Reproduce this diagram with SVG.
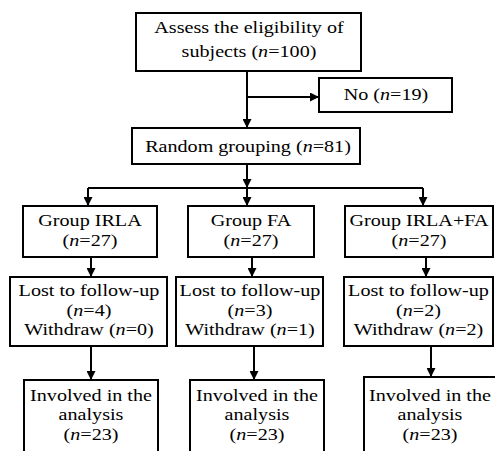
<svg xmlns="http://www.w3.org/2000/svg" width="495" height="451" viewBox="0 0 495 451">
<style>
rect{fill:#fff;stroke:#000;stroke-width:2}
text{font-family:'Liberation Serif','Times New Roman',serif;font-size:17.5px;fill:#000;text-anchor:middle}
.i{font-style:italic}
#connectors line{stroke:#000;stroke-width:2;fill:none}
</style>
<defs>
<marker id="ah" viewBox="0 0 10 10" refX="10" refY="5" markerWidth="9" markerHeight="9" markerUnits="userSpaceOnUse" orient="auto"><path d="M0,0L10,5L0,10Z" fill="#000"/></marker>
</defs>
<rect x="0" y="0" width="495" height="451" style="stroke:none"/>
<g id="connectors">
<line x1="247" y1="71" x2="247" y2="128" marker-end="url(#ah)"/>
<line x1="247" y1="97" x2="319" y2="97" marker-end="url(#ah)"/>
<line x1="247" y1="164" x2="247" y2="188" marker-end="url(#ah)"/>
<line x1="88" y1="188" x2="423" y2="188"/>
<line x1="88" y1="188" x2="88" y2="206" marker-end="url(#ah)"/>
<line x1="247" y1="188" x2="247" y2="206" marker-end="url(#ah)"/>
<line x1="423" y1="188" x2="423" y2="206" marker-end="url(#ah)"/>
<line x1="91" y1="257" x2="91" y2="277" marker-end="url(#ah)"/>
<line x1="252" y1="257" x2="252" y2="277" marker-end="url(#ah)"/>
<line x1="426" y1="257" x2="426" y2="277" marker-end="url(#ah)"/>
<line x1="91" y1="346" x2="91" y2="380" marker-end="url(#ah)"/>
<line x1="254" y1="346" x2="254" y2="380" marker-end="url(#ah)"/>
<line x1="431" y1="346" x2="431" y2="377" marker-end="url(#ah)"/>
</g>
<g id="assess"><rect x="136" y="13" width="225" height="58"/>
<text transform="matrix(1.15 0 0 1 249 0)" x="0" y="33">Assess the eligibility of</text>
<text transform="matrix(1.15 0 0 1 249 0)" x="0" y="57">subjects (<tspan class="i">n</tspan>=100)</text></g>
<g id="no"><rect x="319" y="78" width="133" height="34"/>
<text transform="matrix(1.15 0 0 1 386 0)" x="0" y="100">No (<tspan class="i">n</tspan>=19)</text></g>
<g id="random"><rect x="132" y="128" width="228" height="36"/>
<text transform="matrix(1.15 0 0 1 248 0)" x="0" y="152">Random grouping (<tspan class="i">n</tspan>=81)</text></g>
<g id="g1"><rect x="23" y="206" width="134" height="51"/>
<text transform="matrix(1.15 0 0 1 90 0)" x="0" y="226">Group IRLA</text>
<text transform="matrix(1.15 0 0 1 90 0)" x="0" y="246">(<tspan class="i">n</tspan>=27)</text></g>
<g id="g2"><rect x="188" y="206" width="126" height="51"/>
<text transform="matrix(1.15 0 0 1 251 0)" x="0" y="226">Group FA</text>
<text transform="matrix(1.15 0 0 1 251 0)" x="0" y="246">(<tspan class="i">n</tspan>=27)</text></g>
<g id="g3"><rect x="345" y="206" width="148" height="51"/>
<text transform="matrix(1.15 0 0 1 419 0)" x="0" y="226">Group IRLA+FA</text>
<text transform="matrix(1.15 0 0 1 419 0)" x="0" y="246">(<tspan class="i">n</tspan>=27)</text></g>
<g id="l1"><rect x="10" y="277" width="157" height="69"/>
<text transform="matrix(1.15 0 0 1 89 0)" x="0" y="296.5">Lost to follow-up</text>
<text transform="matrix(1.15 0 0 1 89 0)" x="0" y="316">(<tspan class="i">n</tspan>=4)</text>
<text transform="matrix(1.15 0 0 1 89 0)" x="0" y="335.5">Withdraw (<tspan class="i">n</tspan>=0)</text></g>
<g id="l2"><rect x="176" y="277" width="147" height="69"/>
<text transform="matrix(1.15 0 0 1 250 0)" x="0" y="296.5">Lost to follow-up</text>
<text transform="matrix(1.15 0 0 1 250 0)" x="0" y="316">(<tspan class="i">n</tspan>=3)</text>
<text transform="matrix(1.15 0 0 1 250 0)" x="0" y="335.5">Withdraw (<tspan class="i">n</tspan>=1)</text></g>
<g id="l3"><rect x="344" y="277" width="149" height="69"/>
<text transform="matrix(1.15 0 0 1 418.5 0)" x="0" y="296.5">Lost to follow-up</text>
<text transform="matrix(1.15 0 0 1 418.5 0)" x="0" y="316">(<tspan class="i">n</tspan>=2)</text>
<text transform="matrix(1.15 0 0 1 418.5 0)" x="0" y="335.5">Withdraw (<tspan class="i">n</tspan>=2)</text></g>
<g id="i1"><rect x="24" y="380" width="134" height="80"/>
<text transform="matrix(1.15 0 0 1 91 0)" x="0" y="401">Involved in the</text>
<text transform="matrix(1.15 0 0 1 91 0)" x="0" y="420.5">analysis</text>
<text transform="matrix(1.15 0 0 1 91 0)" x="0" y="440">(<tspan class="i">n</tspan>=23)</text></g>
<g id="i2"><rect x="190" y="380" width="134" height="80"/>
<text transform="matrix(1.15 0 0 1 257 0)" x="0" y="401">Involved in the</text>
<text transform="matrix(1.15 0 0 1 257 0)" x="0" y="420.5">analysis</text>
<text transform="matrix(1.15 0 0 1 257 0)" x="0" y="440">(<tspan class="i">n</tspan>=23)</text></g>
<g id="i3"><rect x="364" y="377" width="134" height="83"/>
<text transform="matrix(1.15 0 0 1 430 0)" x="0" y="401">Involved in the</text>
<text transform="matrix(1.15 0 0 1 430 0)" x="0" y="420.5">analysis</text>
<text transform="matrix(1.15 0 0 1 430 0)" x="0" y="440">(<tspan class="i">n</tspan>=23)</text></g>
</svg>
